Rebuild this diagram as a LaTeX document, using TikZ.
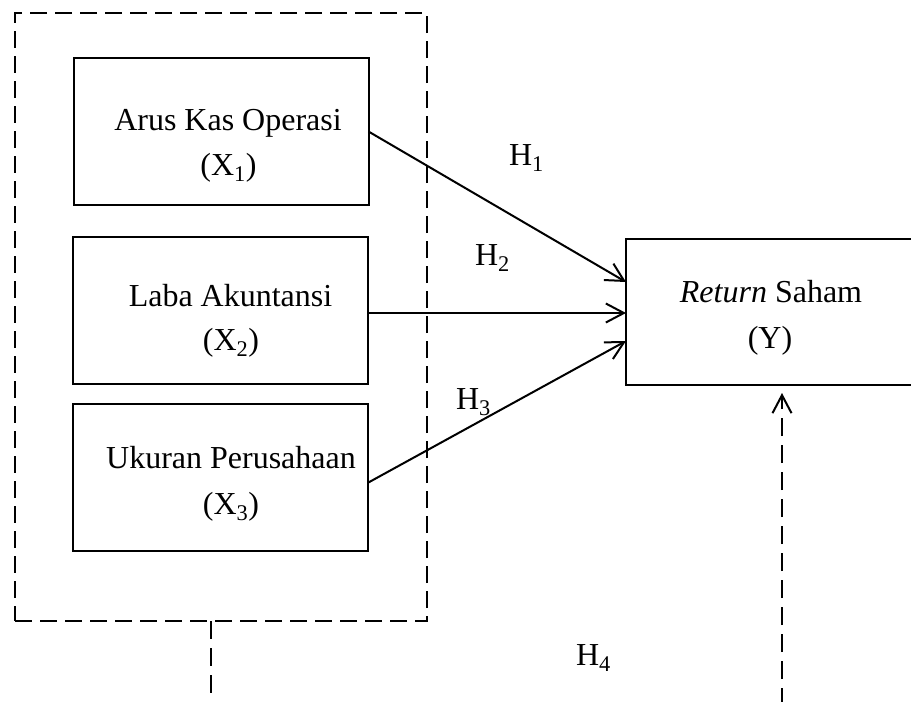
\documentclass[tikz,border=0pt]{standalone}
\usepackage{fontspec}
\setmainfont{Liberation Serif}
\usetikzlibrary{arrows.meta}
\begin{document}
\begin{tikzpicture}[x=1pt,y=-1pt,
  every node/.style={inner sep=0pt, outer sep=0pt},
  varbox/.style={draw, line width=2pt, minimum width=295pt, minimum height=147pt},
  grpbox/.style={draw, line width=2pt, dash pattern=on 17pt off 8pt, minimum width=412pt, minimum height=608pt},
  txt/.style={anchor=base, font=\fontsize{32}{40}\selectfont},
  hlab/.style={anchor=base west, font=\fontsize{32}{40}\selectfont},
  arr/.style={line width=2pt, -{Straight Barb[length=18pt,width=19pt]}},
  dashline/.style={line width=2pt, dash pattern=on 18pt off 9pt},
]
\useasboundingbox (0,0) rectangle (911,702);
\clip (0,0) rectangle (911,702);
% group
\node[grpbox] (grp) at (221,317) {};
% boxes
\node[varbox] (b1) at (221,131.5) {};
\node[varbox] (b2) at (220.5,310) {};
\node[varbox] (b3) at (220,477.5) {};
\node[draw, line width=2pt, minimum width=290pt, minimum height=146pt] (rb) at (771,312) {};
% texts
\node[txt] (t1a) at (228,130) {Arus Kas Operasi};
\node[txt] (t1b) at (228.5,175) {(X\textsubscript{1})};
\node[txt] (t2a) at (230.5,306) {Laba Akuntansi};
\node[txt] (t2b) at (231,350) {(X\textsubscript{2})};
\node[txt] (t3a) at (231,468) {Ukuran Perusahaan};
\node[txt] (t3b) at (231,514) {(X\textsubscript{3})};
\node[txt] (tya) at (771,302) {\textit{Return} Saham};
\node[txt] (tyb) at (770,348) {(Y)};
% connectors
\draw[arr] (b1.east) -- ([yshift=30pt]rb.west);
\draw[arr] ([yshift=-3pt]b2.east) -- ([yshift=-3pt]b2.east -| rb.west);
\draw[arr] ([yshift=-5.5pt]b3.east) -- ([yshift=-29pt]rb.west);
% labels
\node[hlab] (h1) at (509,165) {H\textsubscript{1}};
\node[hlab] (h2) at (475,265) {H\textsubscript{2}};
\node[hlab] (h3) at (456,409) {H\textsubscript{3}};
\node[hlab] (h4) at (576,665) {H\textsubscript{4}};
% dashed links
\coordinate (dl) at (211,706);
\coordinate (dr) at (782,706);
\draw[dashline] (grp.south -| dl) -- (dl);
\draw[dashline, -{Straight Barb[length=18pt,width=19pt]}, shorten >=8pt] (dr) -- (dr |- rb.south);
\end{tikzpicture}
\end{document}
